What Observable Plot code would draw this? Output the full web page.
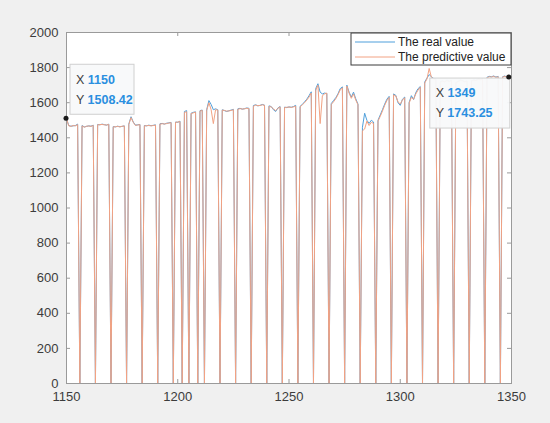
<!DOCTYPE html>
<html><head><meta charset="utf-8">
<script src="https://cdn.jsdelivr.net/npm/d3@7"></script>
<script src="https://cdn.jsdelivr.net/npm/@observablehq/plot@0.6"></script>
<style>
html,body{margin:0;padding:0;background:#f0f0f0;}
</style>
</head><body><div id="chart"></div>
<script>
const firstDay = 1150;
const realValues = [
1510,1470,1466,1468,1470,1478,0,
1470,1462,1465,1468,1466,1472,0,
1476,1474,1478,1475,1472,1478,0,
1464,1462,1466,1463,1465,1468,0,
1478,1520,1490,1472,1474,1476,0,
1470,1468,1472,1469,1471,1474,0,
1480,1482,1478,1483,1485,1488,0,
1490,1488,1495,0,1550,1555,0,
1540,1545,1548,0,1555,1558,0,
1560,1612,1590,1560,1565,1560,0,
1560,1555,1550,1554,1558,1562,0,
1565,1568,1563,1566,1570,1568,0,
1584,1588,1582,1585,1590,1586,0,
1582,1578,1560,1550,1570,1578,0,
1575,1572,1576,1574,1578,1585,0,
1580,1590,1605,1620,1640,1662,0,
1680,1708,1660,1650,1655,1652,0,
1595,1612,1628,1650,1680,1690,0,
1700,1660,1632,1660,1622,1592,0,
1460,1540,1500,1482,1500,1490,0,
1500,1530,1560,1592,1620,1636,0,
1650,1642,1600,1585,1620,1632,0,
1602,1640,1618,1658,1680,1692,0,
1718,1740,1760,1748,1738,1735,0,
1720,1725,1718,1730,1722,1728,0,
1715,1722,1730,1726,1720,1724,0,
1725,1730,1728,1735,1732,1736,0,
1745,1750,1748,1752,1746,1750,0,
1748,1752,1745,1746
];
const predValues = [
1508.42,1468,1465,1470,1468,1475,0,
1468,1460,1466,1467,1465,1470,0,
1474,1475,1476,1474,1473,1476,0,
1462,1463,1465,1462,1466,1467,0,
1476,1515,1488,1470,1473,1475,0,
1468,1469,1470,1468,1470,1472,0,
1478,1480,1479,1481,1484,1486,0,
1488,1490,1492,0,1545,1548,0,
1538,1542,1546,0,1552,1556,0,
1555,1600,1560,1481,1560,1558,0,
1558,1556,1552,1553,1556,1560,0,
1562,1566,1564,1565,1568,1566,0,
1580,1586,1583,1584,1588,1585,0,
1578,1576,1565,1555,1568,1576,0,
1572,1574,1575,1573,1576,1580,0,
1576,1588,1600,1615,1632,1655,0,
1670,1700,1481,1640,1650,1655,0,
1590,1605,1622,1645,1672,1685,0,
1695,1655,1625,1650,1615,1588,0,
1440,1450,1495,1470,1488,1482,0,
1495,1522,1552,1585,1612,1630,0,
1645,1638,1605,1592,1615,1628,0,
1598,1630,1620,1650,1672,1688,0,
1712,1735,1795,1745,1735,1732,0,
1716,1722,1720,1726,1720,1725,0,
1712,1720,1726,1724,1718,1722,0,
1722,1728,1726,1732,1730,1734,0,
1742,1748,1746,1750,1744,1748,0,
1746,1750,1744,1743.25
];
const xTicks = [1150, 1200, 1250, 1300, 1350];
const yTicks = [0, 200, 400, 600, 800, 1000, 1200, 1400, 1600, 1800, 2000];
const seriesNames = ["The real value", "The predictive value"];
const seriesColors = ["#4f9fdb", "#f2a283"];
const tipX = [1150, 1349];
const tipY = [1508.42, 1743.25];

const realRows = realValues.map((v, i) => ({x: firstDay + i, y: v}));
const predRows = predValues.map((v, i) => ({x: firstDay + i, y: v}));
const tips = tipX.map((x, i) => ({x, y: tipY[i]}));

const ml = 66, mr = 39, mt = 32, mb = 40, W = 550, H = 423;
const pw = W - ml - mr, ph = H - mt - mb;
const axisColor = "#9a9a9a";
const font = "'Liberation Sans', Arial, sans-serif";

const chart = Plot.plot({
  width: W, height: H,
  marginLeft: ml, marginRight: mr, marginTop: mt, marginBottom: mb,
  style: {background: "#f0f0f0", fontFamily: font, fontSize: "13px", color: "#3c3c3c"},
  x: {domain: [1150, 1350], ticks: xTicks, tickFormat: d => String(d), tickSize: 0, tickPadding: 8, label: null},
  y: {domain: [0, 2000], ticks: yTicks, tickFormat: d => String(d), tickSize: 0, tickPadding: 8, label: null},
  marks: [
    Plot.frame({fill: "white", stroke: "none"}),
    Plot.lineY(realRows, {x: "x", y: "y", stroke: seriesColors[0], strokeWidth: 1}),
    Plot.lineY(predRows, {x: "x", y: "y", stroke: seriesColors[1], strokeWidth: 1}),
    Plot.frame({stroke: axisColor}),
    Plot.tickX(xTicks, {x: d => d, stroke: axisColor, insetTop: ph - 4}),
    Plot.tickX(xTicks, {x: d => d, stroke: axisColor, insetBottom: ph - 4}),
    Plot.tickY(yTicks, {y: d => d, stroke: axisColor, insetRight: pw - 4}),
    Plot.tickY(yTicks, {y: d => d, stroke: axisColor, insetLeft: pw - 4})
  ]
});
document.getElementById("chart").appendChild(chart);

const svg = d3.select(chart);
const sx = chart.scale("x"), sy = chart.scale("y");

// Legend
const lg = svg.append("g").attr("font-family", font).attr("font-size", 12).attr("text-anchor", "start");
const lx = W - mr - 160, ly = mt + 1;
lg.append("rect").attr("x", lx).attr("y", ly).attr("width", 160).attr("height", 32)
  .attr("fill", "white").attr("stroke", "#3a3a3a").attr("stroke-width", 1);
seriesNames.forEach((name, i) => {
  const yy = ly + 9 + i * 15;
  lg.append("line").attr("x1", lx + 4).attr("x2", lx + 44).attr("y1", yy).attr("y2", yy)
    .attr("stroke", seriesColors[i]).attr("stroke-width", 1);
  lg.append("text").attr("x", lx + 47).attr("y", yy).attr("dy", "0.35em").attr("fill", "#222").text(name);
});

// Data tips
const tipBoxes = [
  {dx: 4, dy: -54, w: 64, h: 50},
  {dx: -79, dy: 1, w: 80, h: 50}
];
tips.forEach((t, i) => {
  const px = sx.apply(t.x), py = sy.apply(t.y);
  const b = tipBoxes[i];
  const g = svg.append("g").attr("font-family", font).attr("font-size", 12.5).attr("text-anchor", "start");
  g.append("rect").attr("x", px + b.dx).attr("y", py + b.dy).attr("width", b.w).attr("height", b.h)
    .attr("fill", "#f8f9fa").attr("fill-opacity", 0.95).attr("stroke", "#d0d0d0");
  const rows = [["X", String(t.x)], ["Y", t.y.toFixed(2)]];
  rows.forEach((r, j) => {
    const tx = g.append("text").attr("x", px + b.dx + 6).attr("y", py + b.dy + 15 + j * 20).attr("dy", "0.35em");
    tx.append("tspan").attr("fill", "#404040").text(r[0] + " ");
    tx.append("tspan").attr("fill", "#2a8fe0").attr("font-weight", "bold").text(r[1]);
  });
  svg.append("circle").attr("cx", px).attr("cy", py).attr("r", 2.5).attr("fill", "#1a1a1a");
});
</script>
</body></html>
